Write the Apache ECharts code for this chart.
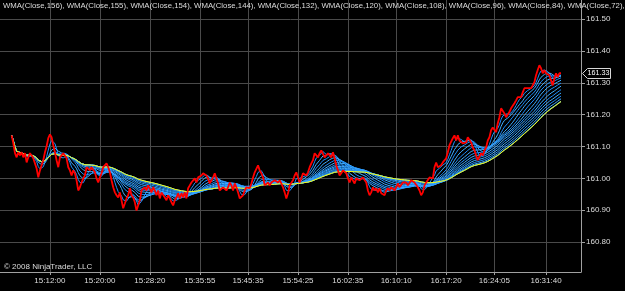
<!DOCTYPE html>
<html><head><meta charset="utf-8">
<script src="https://cdn.jsdelivr.net/npm/echarts@6/dist/echarts.min.js"></script>
<style>html,body{margin:0;padding:0;background:#000}#c{width:625px;height:291px}</style>
</head><body><div id="c"></div>
<script>
// Time labels of the labelled bars and their bar index on the category axis
const tickLabels = ['15:12:00','15:20:00','15:28:20','15:35:55','15:45:35','15:54:25','16:02:35','16:10:10','16:17:20','16:24:05','16:31:40'];
const tickIndex = [30,60,90,120,149,179,209,238,268,297,328];
const leadBars = 7;      // empty slots before first bar
const totalBars = 350;   // category slots on the axis

// Close prices
const closeA = [161.135,161.110,161.079,161.066,161.082,161.072,161.082,161.066,161.079,161.050,161.066,161.079,161.072,161.063,161.047,161.031,161.003,161.025,161.041,161.057,161.082,161.101,161.126,161.138,161.129,161.104,161.082,161.057,161.035,161.066,161.063,161.079,161.082,161.063,161.035,161.025,161.009,161.025,161.016,160.994,160.962,160.972,160.987,161.000,161.009,161.035,161.041,161.025,161.035,161.041,161.019,161.000,160.987,161.003,161.016,161.035,161.041,161.047,161.035,161.019,160.994,160.972,160.956,160.947,160.940,160.956,160.931,160.906,160.921,160.937,160.947,160.969,160.947,160.940,160.925,160.899,160.893,160.931,160.962,160.956,160.972,160.962,160.978];
const closeB = [160.984,160.956,160.972,160.962,160.947,160.962,160.937,160.956,160.953,160.940,160.931,160.947,160.937,160.925,160.915,160.931,160.940,160.953,160.937,160.953,160.940,160.956,160.937,160.969,160.978,160.987,160.987,161.000,160.987,161.003,161.000,161.009,161.016,161.019,161.009,161.000,160.984,160.994,161.003,161.016,161.000,160.984,160.962,160.956,160.972,160.978,160.962,160.972,160.987,160.978,160.962,160.984,160.972,160.956,160.937,160.931,160.947,160.962,160.972,160.978,160.969,160.984,161.003,161.019,161.025,161.041,161.025,161.016,161.003,160.978,160.972,160.987,160.978,160.987,160.984,160.994,161.000,160.987,160.994,160.984,160.972,160.956,160.937,160.953,160.978];
const closeC = [160.978,160.994,161.009,161.019,161.003,160.987,161.000,161.016,161.019,161.009,161.019,161.035,161.047,161.057,161.079,161.082,161.066,161.079,161.088,161.094,161.066,161.063,161.079,161.082,161.066,161.082,161.063,161.041,161.025,161.009,161.016,161.025,161.019,161.016,161.000,160.987,161.003,161.000,160.984,161.000,161.003,160.994,161.000,161.003,161.000,160.987,160.962,160.947,160.956,160.972,160.962,160.969,160.956,160.969,160.953,160.956,160.947,160.962,160.969,160.962,160.972,160.969,160.962,160.972,160.984,160.972,160.978,160.987,160.984,160.987,160.978,160.984,160.994,161.000,160.987,160.984,160.972,160.962,160.947,160.956,160.978,160.987,160.984,161.003,161.009,161.000,161.035];
const closeD = [161.050,161.035,161.031,161.041,161.050,161.047,161.063,161.082,161.104,161.110,161.126,161.135,161.119,161.135,161.119,161.113,161.110,161.110,161.113,161.129,161.135,161.113,161.097,161.088,161.072,161.057,161.063,161.079,161.072,161.088,161.097,161.119,161.129,161.151,161.160,161.157,161.145,161.173,161.192,161.220,161.214,161.204,161.192,161.192,161.208,161.220,161.223,161.236,161.245,161.255,161.261,161.255,161.270,161.283,161.277,161.283,161.286,161.283,161.292,161.302,161.324,161.340,161.355,161.346,161.330,161.340,161.330,161.333,161.324,161.308,161.292,161.314,161.330,161.318,161.330,161.330];

// WMA periods shown in the legend
const periods = [156,155,154,144,132,120,108,96,84,72,60,48,36,24,12];
const barsPerPoint = 2.0;  // chart bars represented by each sampled point

const yMin = 160.706, yMax = 161.56;

const close = closeA.concat(closeB, closeC, closeD);

function wma(src, n) {
  const out = [];
  for (let i = 0; i < src.length; i++) {
    const k = Math.min(n, i + 1);
    let num = 0, den = 0;
    for (let j = 0; j < k; j++) { const w = k - j; num += src[i - j] * w; den += w; }
    out.push(+(num / den).toFixed(4));
  }
  return out;
}
const pad = arr => Array(leadBars).fill(null).concat(arr);
const cats = Array.from({length: totalBars}, (_, i) => String(i));
const labelMap = {};
tickIndex.forEach((ix, k) => labelMap[ix] = tickLabels[k]);
const isTick = (i) => labelMap[i] !== undefined;

const txt = '#dcdcdc';
const font = "Arial, 'Liberation Sans', sans-serif";
const fanColors = ['#1E90FF', '#42AEFF'];

const series = [];
periods.slice().reverse().forEach((p, k) => {
  if (p === 156) return;
  series.push({
    type: 'line', name: 'WMA' + p, showSymbol: false, silent: true,
    data: pad(wma(close, Math.max(1, Math.round(p / barsPerPoint)))),
    lineStyle: {width: 1, color: fanColors[k % 2]}, z: 2
  });
});
series.push({
  type: 'line', name: 'WMA156', showSymbol: false, silent: true,
  data: pad(wma(close, Math.max(1, Math.round(156 / barsPerPoint)))),
  lineStyle: {width: 1, color: '#ffff00'}, z: 3
});
series.push({
  type: 'line', name: 'Close', showSymbol: false, silent: true,
  data: pad(close), lineStyle: {width: 1.8, color: '#ff0000'}, z: 4
});

const chart = echarts.init(document.getElementById('c'), null, {renderer: 'canvas'});
chart.setOption({
  backgroundColor: '#000',
  animation: false,
  title: {
    text: periods.map(p => 'WMA(Close,' + p + ')').join(', '),
    left: 3, top: 2, padding: 0,
    textStyle: {color: txt, fontSize: 7.8, fontWeight: 'normal', fontFamily: font}
  },
  grid: {left: 0, right: 44, top: 0, bottom: 19},
  xAxis: {
    type: 'category', data: cats, boundaryGap: false,
    axisLine: {lineStyle: {color: '#a0a0a0', width: 1}},
    axisTick: {interval: (i) => isTick(i), length: 3, lineStyle: {color: '#a0a0a0'}},
    axisLabel: {interval: (i) => isTick(i), formatter: (v) => labelMap[Number(v)] || '',
      color: txt, fontSize: 8, fontFamily: font, margin: 5},
    splitLine: {show: true, interval: (i) => isTick(i), lineStyle: {color: '#4a4a4a', width: 1}}
  },
  yAxis: {
    type: 'value', position: 'right', min: yMin, max: yMax, splitNumber: 8, scale: true,
    axisLine: {show: true, lineStyle: {color: '#a0a0a0', width: 1}},
    axisTick: {show: true, length: 4, lineStyle: {color: '#a0a0a0'}},
    axisLabel: {color: txt, fontSize: 8, fontFamily: font, margin: 5,
      formatter: v => v.toFixed(2), showMinLabel: false, showMaxLabel: false},
    splitLine: {show: true, showMinLine: false, showMaxLine: false, lineStyle: {color: '#4a4a4a', width: 1}}
  },
  series: series
});

// Last-price tag on the price axis, placed through the axis scale
const last = close[close.length - 1];
const py = Math.round(chart.convertToPixel({yAxisIndex: 0}, last)) + 0.5;
const ax = 582.5;
chart.setOption({
  graphic: [
    {type: 'text', left: 4, top: 263, silent: true,
     style: {text: '\u00a9 2008 NinjaTrader, LLC', fill: txt, fontSize: 8, fontFamily: font}},
    {type: 'polygon', silent: true, z: 10,
     shape: {points: [[ax, py], [ax + 5, py - 5], [ax + 28, py - 5], [ax + 28, py + 5], [ax + 5, py + 5]]},
     style: {fill: '#000', stroke: '#d8d8d8', lineWidth: 1}},
    {type: 'text', silent: true, z: 11, x: ax + 5, y: py,
     style: {text: last.toFixed(2), fill: '#ffffff', fontSize: 7.2, fontFamily: font, verticalAlign: 'middle'}}
  ]
});
</script></body></html>
